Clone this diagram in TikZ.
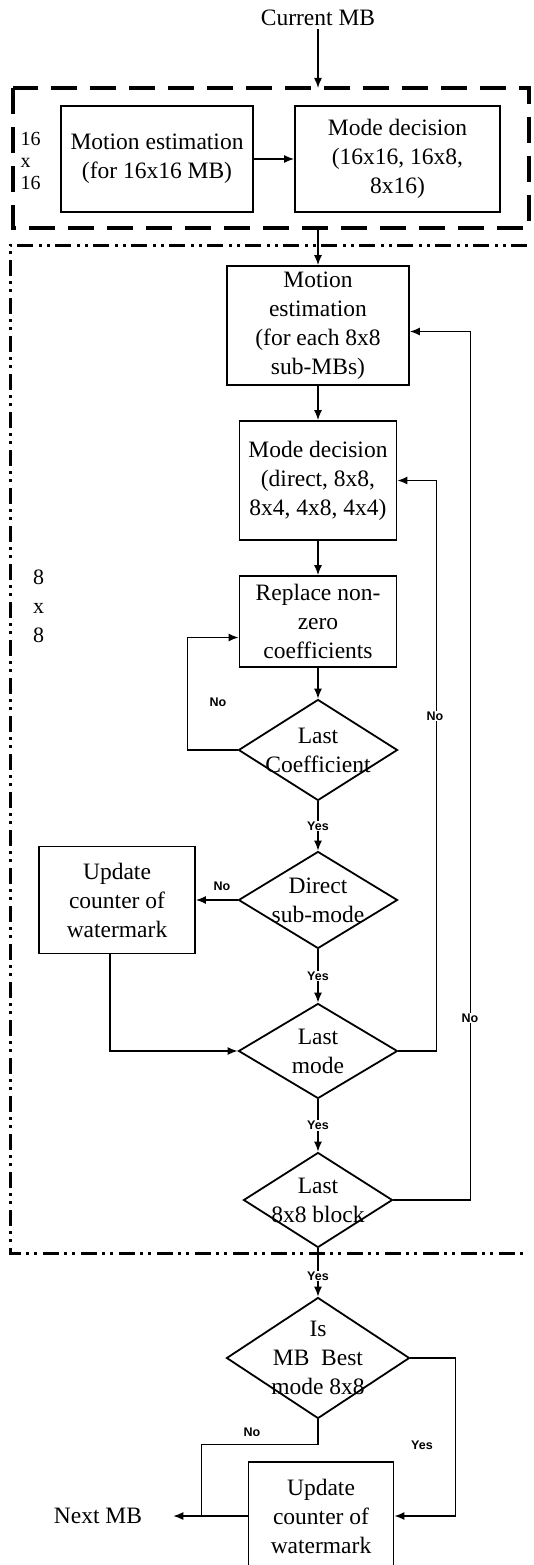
\documentclass[tikz,border=0pt]{standalone}
\usepackage{fontspec}
\setmainfont{Liberation Serif}
\newfontfamily\lblfont{Liberation Sans}
\usepackage{tikz}
\usetikzlibrary{shapes.geometric, arrows.meta, calc}
\newcommand{\bodysize}{\fontsize{23.5}{29}\selectfont}
\newcommand{\tagsize}{\lblfont\bfseries\fontsize{12.5}{14}\selectfont}

\begin{document}
\begin{tikzpicture}[x=1pt, y=-1pt, every node/.style={font=\bodysize},
    box/.style={draw, line width=1.8pt, align=center, inner sep=2pt},
    dec/.style={diamond, draw, line width=1.8pt, align=center, inner xsep=-45pt, inner ysep=-25pt},
    ln/.style={line width=1.5pt},
    arr/.style={ln, -{Latex[length=10pt, width=8pt]}},
    tag/.style={fill=white, inner sep=1pt, font=\tagsize}]
    \useasboundingbox (0,0) rectangle (534,1565);

    \node (cur) at (318,18) {Current MB};
    \node[box, minimum width=192, minimum height=106] (me16) at (157,159) {Motion estimation\\(for 16x16 MB)};
    \node[box, minimum width=205, minimum height=106] (md16) at (397.5,159) {Mode decision\\(16x16, 16x8,\\8x16)};
    \node[align=left, anchor=west, font=\fontsize{20}{22}\selectfont] (l16) at (17,161) {16\\x\\16};

    \node[box, minimum width=182, minimum height=119] (me8) at (318,325.5) {Motion\\estimation\\(for each 8x8\\sub-MBs)};
    \node[box, minimum width=157, minimum height=119] (md8) at (318,480.5) {Mode decision\\(direct, 8x8,\\8x4, 4x8, 4x4)};
    \node[box, minimum width=157, minimum height=91] (rep) at (318,621.5) {Replace non-\\zero\\coefficients};
    \node[dec, minimum width=159, minimum height=101] (lastcoef) at (318,750) {Last\\Coefficient};
    \node[dec, minimum width=159, minimum height=97] (direct) at (318,900) {Direct\\sub-mode};
    \node[box, minimum width=156, minimum height=107] (upd1) at (117,900) {Update\\counter of\\watermark};
    \node[dec, minimum width=159, minimum height=95] (lastmode) at (318,1051) {Last\\mode};
    \node[dec, minimum width=149, minimum height=95] (lastblk) at (318,1200) {Last\\8x8 block};
    \node[align=center, font=\fontsize{22}{29}\selectfont] (l8) at (38.5,606) {8\\x\\8};

    \node[dec, minimum width=183, minimum height=121] (best) at (318,1358) {Is\\MB\ \ Best\\mode 8x8};
    \node[box, minimum width=145, minimum height=108] (upd2) at (321,1516) {Update\\counter of\\watermark};
    \node[inner xsep=31pt] (next) at (98,1516) {Next MB};

    % the two block frames
    \coordinate (dtop) at (318,88);
    \coordinate (dbot) at (318,228);
    \draw[line width=3.5pt, dash pattern=on 26pt off 13pt] (13,88) rectangle (529,228);
    \draw[line width=3pt, dash pattern=on 16pt off 5pt on 3pt off 5pt on 3pt off 6pt] (527,245) -- (10,245) -- (10,1253) -- (527,1253);

    \draw[arr] (cur) -- (dtop);
    \draw[arr] (me16) -- (md16);
    \draw[arr] (dbot) -- (me8);
    \draw[arr] (me8) -- (md8);
    \draw[arr] (md8) -- (rep);
    \draw[arr] (rep) -- (lastcoef);
    \draw[arr] (lastcoef) -- (direct) node[tag, midway] {Yes};
    \draw[arr] (direct) -- (upd1);
    \draw[arr] (direct) -- (lastmode) node[tag, midway] {Yes};
    \draw[arr] (lastmode) -- (lastblk) node[tag, midway] {Yes};
    \draw[arr] (lastblk) -- (best) node[tag, pos=0.57] {Yes};
    \draw[arr] ($(upd1.south)+(-7,0)$) |- (lastmode.west);

    % loops back
    \draw[arr] (lastcoef.west) -- ++(-50,0) |- ($(rep.west)+(0,16)$);
    \draw[arr] (lastmode.east) -- ++(38,0) |- (md8.east);
    \draw[arr] (lastblk.east) -- ++(77,0) |- ($(me8.east)+(0,6)$);
    \node[tag] (ncoef) at (218,702) {No};
    \node[tag] (ndirect) at (222,886) {No};
    \node[tag] (nmode) at (435,716) {No};
    \node[tag] (nblk) at (470,1018) {No};

    \draw[ln] (best.south) -- ++(0,25) -| ($(upd2.west)+(-46,0)$);
    \draw[arr] (best.east) -- ++(45,0) |- (upd2.east);
    \draw[arr] (upd2.west) -- (upd2.west -| next.east);
    \node[tag] (nbest) at (252,1432) {No};
    \node[tag] (ybest) at (422,1445) {Yes};
\end{tikzpicture}
\end{document}
